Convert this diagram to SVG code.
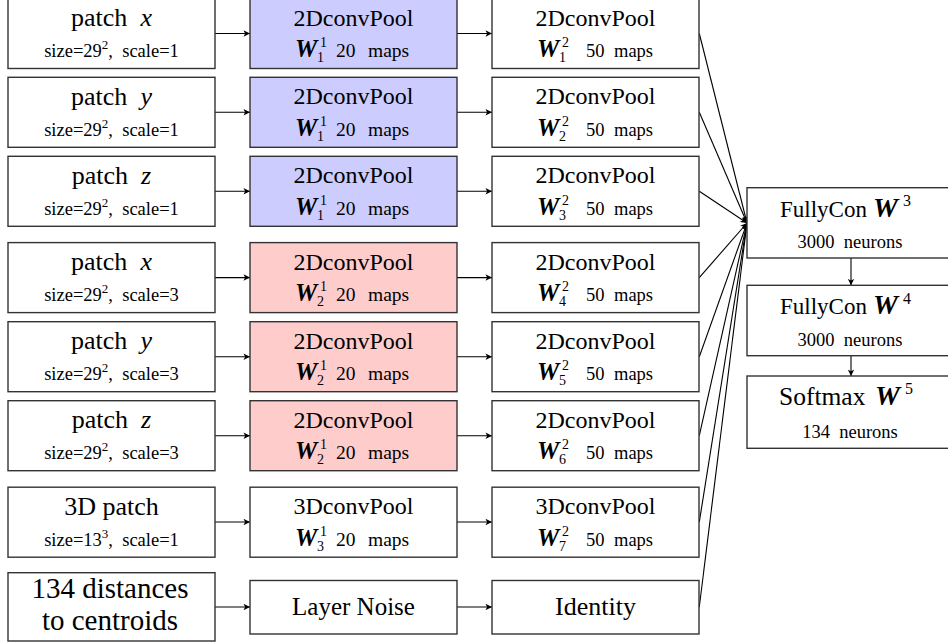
<svg xmlns="http://www.w3.org/2000/svg" width="948" height="644" viewBox="0 0 948 644" font-family="'Liberation Serif', 'DejaVu Serif', serif">
<style>
text{font-family:"Liberation Serif","DejaVu Serif",serif;fill:#000}
.box{fill:#fff;stroke:#333;stroke-width:1.4}
.blue{fill:#ccccff}
.red{fill:#ffcccc}
.big{font-size:24px;text-anchor:middle}
.pt{font-size:26px;text-anchor:middle}
.sm{font-size:18.5px}
.sm2{font-size:19.5px}
.smc{font-size:18.5px;text-anchor:middle}
.W{font-size:25px;font-weight:bold;font-style:italic}
.WL{font-size:28px;font-weight:bold;font-style:italic}
.sc{font-size:14px}
.it{font-style:italic}
.con{stroke:#000;stroke-width:1.1;fill:none;marker-end:url(#ah)}
</style>
<defs>
<marker id="ah" viewBox="0 0 10 10" refX="10" refY="5" markerWidth="9" markerHeight="6.5" markerUnits="userSpaceOnUse" orient="auto">
<path d="M0,0 L10,5 L0,10 L2.5,5 Z" fill="#000"/>
</marker>
</defs>

<g id="connectors">
<line class="con" x1="215" y1="33.5" x2="250" y2="33.5"/>
<line class="con" x1="215" y1="112.3" x2="250" y2="112.3"/>
<line class="con" x1="215" y1="191.3" x2="250" y2="191.3"/>
<line class="con" x1="215" y1="277.6" x2="250" y2="277.6"/>
<line class="con" x1="215" y1="356.7" x2="250" y2="356.7"/>
<line class="con" x1="215" y1="435.7" x2="250" y2="435.7"/>
<line class="con" x1="215" y1="522" x2="250" y2="522"/>
<line class="con" x1="215" y1="607" x2="250" y2="607"/>
<line class="con" x1="457" y1="33.5" x2="492" y2="33.5"/>
<line class="con" x1="457" y1="112.3" x2="492" y2="112.3"/>
<line class="con" x1="457" y1="191.3" x2="492" y2="191.3"/>
<line class="con" x1="457" y1="277.6" x2="492" y2="277.6"/>
<line class="con" x1="457" y1="356.7" x2="492" y2="356.7"/>
<line class="con" x1="457" y1="435.7" x2="492" y2="435.7"/>
<line class="con" x1="457" y1="522" x2="492" y2="522"/>
<line class="con" x1="457" y1="607" x2="492" y2="607"/>
<line class="con" x1="699.3" y1="33.5" x2="747" y2="223"/>
<line class="con" x1="699.3" y1="112.3" x2="747" y2="223"/>
<line class="con" x1="699.3" y1="191.3" x2="747" y2="223"/>
<line class="con" x1="699.3" y1="277.6" x2="747" y2="223"/>
<line class="con" x1="699.3" y1="356.7" x2="747" y2="223"/>
<line class="con" x1="699.3" y1="435.7" x2="747" y2="223"/>
<line class="con" x1="699.3" y1="522" x2="747" y2="223"/>
<line class="con" x1="699.3" y1="607" x2="747" y2="223"/>
<line class="con" x1="851" y1="258" x2="851" y2="285.3"/>
<line class="con" x1="851" y1="355.7" x2="851" y2="376"/>
</g>

<!-- Column 1 -->
<g id="in1"><rect class="box" x="8" y="-1.5" width="207" height="70"/>
<text class="pt" x="111.5" y="26">patch&#160;&#160;<tspan class="it">x</tspan></text>
<text class="smc" x="111.5" y="57">size=29<tspan dy="-8" font-size="13">2</tspan><tspan dy="8">,&#160;&#160;scale=1</tspan></text></g>
<g id="in2"><rect class="box" x="8" y="77.3" width="207" height="70"/>
<text class="pt" x="111.5" y="104.8">patch&#160;&#160;<tspan class="it">y</tspan></text>
<text class="smc" x="111.5" y="135.8">size=29<tspan dy="-8" font-size="13">2</tspan><tspan dy="8">,&#160;&#160;scale=1</tspan></text></g>
<g id="in3"><rect class="box" x="8" y="156.3" width="207" height="70"/>
<text class="pt" x="111.5" y="183.8">patch&#160;&#160;<tspan class="it">z</tspan></text>
<text class="smc" x="111.5" y="214.8">size=29<tspan dy="-8" font-size="13">2</tspan><tspan dy="8">,&#160;&#160;scale=1</tspan></text></g>
<g id="in4"><rect class="box" x="8" y="242.6" width="207" height="70"/>
<text class="pt" x="111.5" y="270.1">patch&#160;&#160;<tspan class="it">x</tspan></text>
<text class="smc" x="111.5" y="301.1">size=29<tspan dy="-8" font-size="13">2</tspan><tspan dy="8">,&#160;&#160;scale=3</tspan></text></g>
<g id="in5"><rect class="box" x="8" y="321.7" width="207" height="70"/>
<text class="pt" x="111.5" y="349.2">patch&#160;&#160;<tspan class="it">y</tspan></text>
<text class="smc" x="111.5" y="380.2">size=29<tspan dy="-8" font-size="13">2</tspan><tspan dy="8">,&#160;&#160;scale=3</tspan></text></g>
<g id="in6"><rect class="box" x="8" y="400.7" width="207" height="70"/>
<text class="pt" x="111.5" y="428.2">patch&#160;&#160;<tspan class="it">z</tspan></text>
<text class="smc" x="111.5" y="459.2">size=29<tspan dy="-8" font-size="13">2</tspan><tspan dy="8">,&#160;&#160;scale=3</tspan></text></g>
<g id="in7"><rect class="box" x="8" y="487.2" width="207" height="70"/>
<text class="pt" x="111.5" y="514.5">3D patch</text>
<text class="smc" x="111.5" y="545.5">size=13<tspan dy="-8" font-size="13">3</tspan><tspan dy="8">,&#160;&#160;scale=1</tspan></text></g>
<g id="in8"><rect class="box" x="8" y="572.7" width="207" height="68.3"/>
<text x="110" y="597.5" font-size="29" text-anchor="middle">134 distances</text>
<text x="110" y="630" font-size="29" text-anchor="middle">to centroids</text></g>

<!-- Column 2 -->
<g id="c1a"><rect class="box blue" x="250" y="-1.5" width="207" height="70"/>
<text class="big" x="353.5" y="25.5">2DconvPool</text>
<text class="W" x="295" y="57">W</text><text class="sc" x="320" y="47">1</text><text class="sc" x="317" y="62">1</text>
<text class="sm2" x="336" y="57">20</text><text class="sm2" x="368" y="57">maps</text></g>
<g id="c1b"><rect class="box blue" x="250" y="77.3" width="207" height="70"/>
<text class="big" x="353.5" y="104.3">2DconvPool</text>
<text class="W" x="295" y="135.8">W</text><text class="sc" x="320" y="125.8">1</text><text class="sc" x="317" y="140.8">1</text>
<text class="sm2" x="336" y="135.8">20</text><text class="sm2" x="368" y="135.8">maps</text></g>
<g id="c1c"><rect class="box blue" x="250" y="156.3" width="207" height="70"/>
<text class="big" x="353.5" y="183.3">2DconvPool</text>
<text class="W" x="295" y="214.8">W</text><text class="sc" x="320" y="204.8">1</text><text class="sc" x="317" y="219.8">1</text>
<text class="sm2" x="336" y="214.8">20</text><text class="sm2" x="368" y="214.8">maps</text></g>
<g id="c1d"><rect class="box red" x="250" y="242.6" width="207" height="70"/>
<text class="big" x="353.5" y="269.6">2DconvPool</text>
<text class="W" x="295" y="301.1">W</text><text class="sc" x="320" y="291.1">1</text><text class="sc" x="317" y="306.1">2</text>
<text class="sm2" x="336" y="301.1">20</text><text class="sm2" x="368" y="301.1">maps</text></g>
<g id="c1e"><rect class="box red" x="250" y="321.7" width="207" height="70"/>
<text class="big" x="353.5" y="348.7">2DconvPool</text>
<text class="W" x="295" y="380.2">W</text><text class="sc" x="320" y="370.2">1</text><text class="sc" x="317" y="385.2">2</text>
<text class="sm2" x="336" y="380.2">20</text><text class="sm2" x="368" y="380.2">maps</text></g>
<g id="c1f"><rect class="box red" x="250" y="400.7" width="207" height="70"/>
<text class="big" x="353.5" y="427.7">2DconvPool</text>
<text class="W" x="295" y="459.2">W</text><text class="sc" x="320" y="449.2">1</text><text class="sc" x="317" y="464.2">2</text>
<text class="sm2" x="336" y="459.2">20</text><text class="sm2" x="368" y="459.2">maps</text></g>
<g id="c1g"><rect class="box" x="250" y="487.2" width="207" height="70"/>
<text class="big" x="353.5" y="514">3DconvPool</text>
<text class="W" x="295" y="545.5">W</text><text class="sc" x="320" y="535.5">1</text><text class="sc" x="317" y="550.5">3</text>
<text class="sm2" x="336" y="545.5">20</text><text class="sm2" x="368" y="545.5">maps</text></g>
<g id="noise"><rect class="box" x="250" y="580.5" width="207" height="53.5"/>
<text x="353.5" y="614.5" font-size="25" text-anchor="middle">Layer Noise</text></g>

<!-- Column 3 -->
<g id="c2a"><rect class="box" x="492" y="-1.5" width="207" height="70"/>
<text class="big" x="595.5" y="25.5">2DconvPool</text>
<text class="W" x="537" y="57">W</text><text class="sc" x="562" y="47">2</text><text class="sc" x="559" y="62">1</text>
<text class="sm" x="586" y="57">50</text><text class="sm" x="614" y="57">maps</text></g>
<g id="c2b"><rect class="box" x="492" y="77.3" width="207" height="70"/>
<text class="big" x="595.5" y="104.3">2DconvPool</text>
<text class="W" x="537" y="135.8">W</text><text class="sc" x="562" y="125.8">2</text><text class="sc" x="559" y="140.8">2</text>
<text class="sm" x="586" y="135.8">50</text><text class="sm" x="614" y="135.8">maps</text></g>
<g id="c2c"><rect class="box" x="492" y="156.3" width="207" height="70"/>
<text class="big" x="595.5" y="183.3">2DconvPool</text>
<text class="W" x="537" y="214.8">W</text><text class="sc" x="562" y="204.8">2</text><text class="sc" x="559" y="219.8">3</text>
<text class="sm" x="586" y="214.8">50</text><text class="sm" x="614" y="214.8">maps</text></g>
<g id="c2d"><rect class="box" x="492" y="242.6" width="207" height="70"/>
<text class="big" x="595.5" y="269.6">2DconvPool</text>
<text class="W" x="537" y="301.1">W</text><text class="sc" x="562" y="291.1">2</text><text class="sc" x="559" y="306.1">4</text>
<text class="sm" x="586" y="301.1">50</text><text class="sm" x="614" y="301.1">maps</text></g>
<g id="c2e"><rect class="box" x="492" y="321.7" width="207" height="70"/>
<text class="big" x="595.5" y="348.7">2DconvPool</text>
<text class="W" x="537" y="380.2">W</text><text class="sc" x="562" y="370.2">2</text><text class="sc" x="559" y="385.2">5</text>
<text class="sm" x="586" y="380.2">50</text><text class="sm" x="614" y="380.2">maps</text></g>
<g id="c2f"><rect class="box" x="492" y="400.7" width="207" height="70"/>
<text class="big" x="595.5" y="427.7">2DconvPool</text>
<text class="W" x="537" y="459.2">W</text><text class="sc" x="562" y="449.2">2</text><text class="sc" x="559" y="464.2">6</text>
<text class="sm" x="586" y="459.2">50</text><text class="sm" x="614" y="459.2">maps</text></g>
<g id="c2g"><rect class="box" x="492" y="487.2" width="207" height="70"/>
<text class="big" x="595.5" y="514">3DconvPool</text>
<text class="W" x="537" y="545.5">W</text><text class="sc" x="562" y="535.5">2</text><text class="sc" x="559" y="550.5">7</text>
<text class="sm" x="586" y="545.5">50</text><text class="sm" x="614" y="545.5">maps</text></g>
<g id="identity"><rect class="box" x="492" y="580.5" width="207" height="53.5"/>
<text x="595.5" y="614.5" font-size="26" text-anchor="middle">Identity</text></g>

<!-- Column 4 -->
<g id="fc3"><rect class="box" x="747" y="187.7" width="208" height="70.3"/>
<text x="780" y="216.7" font-size="23">FullyCon</text>
<text class="WL" x="873" y="216.7">W</text><text x="903" y="206" font-size="16">3</text>
<text class="smc" x="850" y="248.3">3000&#160;&#160;neurons</text></g>
<g id="fc4"><rect class="box" x="747" y="285.3" width="208" height="70.4"/>
<text x="780" y="314.3" font-size="23">FullyCon</text>
<text class="WL" x="873" y="314.3">W</text><text x="903" y="303.6" font-size="16">4</text>
<text class="smc" x="850" y="345.9">3000&#160;&#160;neurons</text></g>
<g id="softmax"><rect class="box" x="747" y="376" width="208" height="72.3"/>
<text x="779" y="405" font-size="25.5">Softmax</text>
<text class="WL" x="875" y="405">W</text><text x="905" y="394.3" font-size="16">5</text>
<text class="smc" x="850" y="438.3">134&#160;&#160;neurons</text></g>
</svg>
